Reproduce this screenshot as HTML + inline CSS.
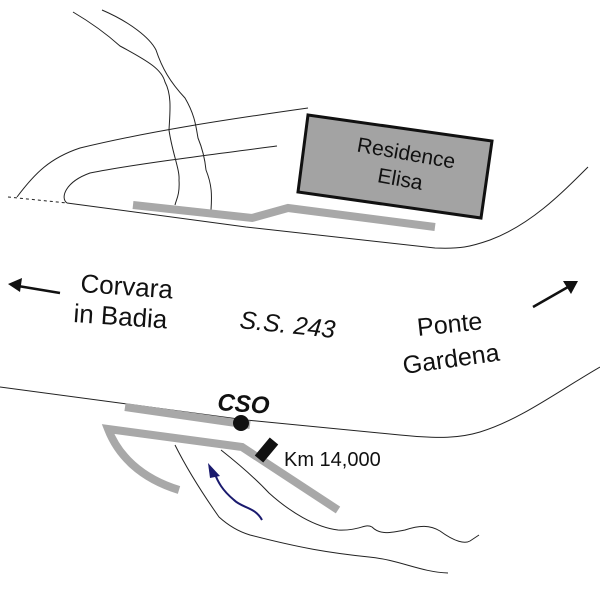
<!DOCTYPE html>
<html><head><style>body{margin:0;background:#fff}svg{display:block}text{font-family:"Liberation Sans",sans-serif;fill:#111}</style></head>
<body>
<svg width="600" height="600" viewBox="0 0 600 600" xmlns="http://www.w3.org/2000/svg">
<g fill="none" stroke="#222" stroke-width="1">
<path d="M73,12 C95,25 110,37 120,46 C150,62 162,70 165,82 C172,95 170,112 169,130 C172,152 180,170 179,180 C180,195 176,200 175,205"/>
<path d="M102,10 C130,22 150,38 156,50 C162,68 170,82 185,98 C195,115 196,127 198,138 C203,150 205,160 206,170 C212,185 212,195 211,210"/>
<path d="M17,197 C35,173 50,158 80,148 C150,131 230,119 308,108"/>
<path d="M277,146 C200,156 130,165 90,173 C65,182 60,198 67,203"/>
<path d="M8,197 L67,203" stroke-dasharray="3,3"/>
<path d="M67,203 L246,227 L435,248 C460,249 470,247 490,240 C530,225 560,195 588,167"/>
<path d="M0,387 L246,420 L400,435 C440,439 460,438 480,432 C520,420 560,390 600,367"/>
<path d="M175,445 C185,465 200,490 219,517 C230,527 240,532 250,535 C300,548 330,553 369,557 C400,560 420,572 448,573"/>
<path d="M221,450 C240,465 255,478 269,493 C290,512 315,527 338,530 C360,531 365,523 372,527 C380,535 390,533 405,530 C420,525 430,525 440,531 C455,542 465,544 470,541 L479,535"/>
</g>
<g fill="none" stroke="#a8a8a8" stroke-width="8">
<path d="M133,205 L252,218 L288,208 L435,227"/>
<path d="M125,407 L250,425"/>
<path d="M179,490 C140,478 118,455 108,429 L242,447 L338,510"/>
</g>
<polygon points="308,115 492,141 481,218 298,192" fill="#a3a3a3" stroke="#111" stroke-width="3"/>
<circle cx="241" cy="423" r="8" fill="#111"/>
<line x1="274" y1="441" x2="259" y2="459" stroke="#111" stroke-width="11"/>
<path d="M262,520 C255,507 242,508 234,500 C222,490 218,482 214,472" fill="none" stroke="#1a1a6e" stroke-width="2"/>
<polygon points="208,463 220,476 210,478" fill="#1a1a6e"/>
<g stroke="#111" stroke-width="2.5"><line x1="60" y1="293" x2="18" y2="286"/><line x1="533" y1="307" x2="568" y2="287"/></g>
<polygon points="8,284 22,278 20,292" fill="#111"/>
<polygon points="578,281 563,281 571,294" fill="#111"/>
<text transform="translate(405,160) rotate(10)" text-anchor="middle" font-size="21">Residence</text>
<text transform="translate(399,186) rotate(10)" text-anchor="middle" font-size="21">Elisa</text>
<text transform="translate(80,292) rotate(4)" font-size="26">Corvara</text>
<text transform="translate(73,322) rotate(4)" font-size="26">in Badia</text>
<text transform="translate(239,328) rotate(6)" font-size="25" font-style="italic">S.S. 243</text>
<text transform="translate(418,336) rotate(-6)" font-size="25">Ponte</text>
<text transform="translate(404,374) rotate(-8)" font-size="25">Gardena</text>
<text transform="translate(217,410) rotate(4)" font-size="24" font-weight="bold" font-style="italic">CSO</text>
<text x="284" y="466" font-size="20">Km 14,000</text>
</svg>
</body></html>
